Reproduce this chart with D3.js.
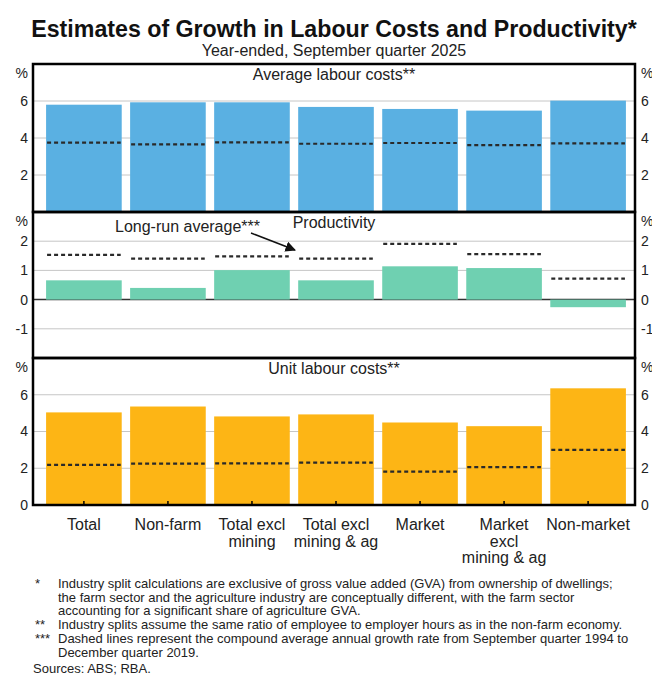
<!DOCTYPE html>
<html>
<head>
<meta charset="utf-8">
<script src="https://cdn.jsdelivr.net/npm/d3@7"></script>
<style>
  body { margin: 0; background: #fff; }
  svg { font-family: "Liberation Sans", Arial, sans-serif; }
</style>
</head>
<body>
<svg id="chart" width="652" height="675"></svg>
<script>
// categories, one entry per line of the label
const categories = [
  ["Total"],
  ["Non-farm"],
  ["Total excl", "mining"],
  ["Total excl", "mining & ag"],
  ["Market"],
  ["Market", "excl", "mining & ag"],
  ["Non-market"]
];

// year-ended growth, September quarter 2025 (%)
const avgLabourCosts = [5.8, 5.93, 5.93, 5.68, 5.57, 5.48, 6.02];
const productivity = [0.66, 0.4, 1.01, 0.66, 1.14, 1.08, -0.26];
const unitLabourCosts = [5.04, 5.36, 4.82, 4.93, 4.49, 4.29, 6.35];

// long-run averages (dashed lines)
const avgLabourCostsLongRun = [3.75, 3.66, 3.76, 3.69, 3.73, 3.62, 3.71];
const productivityLongRun = [1.53, 1.4, 1.48, 1.4, 1.91, 1.56, 0.72];
const unitLabourCostsLongRun = [2.18, 2.25, 2.27, 2.31, 1.82, 2.06, 3.0];

// tick labels
const avgTicks = [2, 4, 6];
const prodTicks = [-1, 0, 1, 2];
const ulcTicks = [0, 2, 4, 6];

const footnotes = [
  { mark: "*", lines: [
    "Industry split calculations are exclusive of gross value added (GVA) from ownership of dwellings;",
    "the farm sector and the agriculture industry are conceptually different, with the farm sector",
    "accounting for a significant share of agriculture GVA."] },
  { mark: "**", lines: [
    "Industry splits assume the same ratio of employee to employer hours as in the non-farm economy."] },
  { mark: "***", lines: [
    "Dashed lines represent the compound average annual growth rate from September quarter 1994 to",
    "December quarter 2019."] }
];

const left = 33, right = 635;
const textColor = "#222";
const svg = d3.select("#chart");

const x = d3.scaleBand()
  .domain(d3.range(categories.length))
  .range([36, 636])
  .paddingInner(0.1)
  .paddingOuter(0.12);

const panels = [
  { title: "Average labour costs**", values: avgLabourCosts, longRun: avgLabourCostsLongRun,
    domain: [0, 8], ticks: avgTicks, top: 64, bottom: 212, color: "#5ab0e2" },
  { title: "Productivity", values: productivity, longRun: productivityLongRun,
    domain: [-2, 3], ticks: prodTicks, top: 212, bottom: 358, color: "#6fd0b1" },
  { title: "Unit labour costs**", values: unitLabourCosts, longRun: unitLabourCostsLongRun,
    domain: [0, 8], ticks: ulcTicks, top: 358, bottom: 505, color: "#fdb515" }
];

// title
svg.append("text")
  .attr("x", 334).attr("y", 37)
  .attr("text-anchor", "middle")
  .attr("font-size", 23.2).attr("font-weight", "bold")
  .attr("fill", "#111")
  .text("Estimates of Growth in Labour Costs and Productivity*");
svg.append("text")
  .attr("x", 334).attr("y", 56)
  .attr("text-anchor", "middle")
  .attr("font-size", 16)
  .attr("fill", textColor)
  .text("Year-ended, September quarter 2025");

panels.forEach((p) => {
  const y = d3.scaleLinear().domain(p.domain).range([p.bottom, p.top]);
  const g = svg.append("g");

  // gridlines
  g.selectAll("line.grid")
    .data(p.ticks.filter((t) => t !== 0))
    .join("line")
    .attr("class", "grid")
    .attr("x1", left).attr("x2", right)
    .attr("y1", (d) => y(d)).attr("y2", (d) => y(d))
    .attr("stroke", "#c6c6c6").attr("stroke-width", 1);

  // zero line where the panel goes negative
  if (p.domain[0] < 0) {
    g.append("line")
      .attr("x1", left).attr("x2", right)
      .attr("y1", y(0)).attr("y2", y(0))
      .attr("stroke", "#333").attr("stroke-width", 1.5);
  }

  // bars
  g.selectAll("rect.bar")
    .data(p.values)
    .join("rect")
    .attr("class", "bar")
    .attr("x", (d, i) => x(i))
    .attr("width", x.bandwidth())
    .attr("y", (d) => y(Math.max(0, d)))
    .attr("height", (d) => Math.abs(y(d) - y(0)))
    .attr("fill", p.color);

  // long-run averages
  g.selectAll("line.lr")
    .data(p.longRun)
    .join("line")
    .attr("class", "lr")
    .attr("x1", (d, i) => x(i) + 1)
    .attr("x2", (d, i) => x(i) + x.bandwidth() - 1)
    .attr("y1", (d) => y(d)).attr("y2", (d) => y(d))
    .attr("stroke", "#2a2a2a")
    .attr("stroke-width", 2.2)
    .attr("stroke-dasharray", "4,3");

  // axes both sides
  const axL = d3.axisLeft(y).tickValues(p.ticks).tickSize(0).tickPadding(5).tickFormat((d) => String(d));
  const axR = d3.axisRight(y).tickValues(p.ticks).tickSize(0).tickPadding(6).tickFormat((d) => String(d));
  [[axL, left], [axR, right]].forEach(([ax, xpos]) => {
    const a = g.append("g").attr("transform", `translate(${xpos},0)`).call(ax);
    a.select(".domain").remove();
    a.selectAll("text").attr("font-size", 14).attr("fill", textColor)
      .attr("font-family", "Liberation Sans, Arial, sans-serif");
  });

  // % units
  g.append("text").attr("x", left - 5).attr("y", p.top + 14)
    .attr("text-anchor", "end").attr("font-size", 14).attr("fill", textColor).text("%");
  g.append("text").attr("x", right + 6).attr("y", p.top + 14)
    .attr("font-size", 14).attr("fill", textColor).text("%");

  // panel title
  g.append("text")
    .attr("x", (left + right) / 2).attr("y", p.top + 16)
    .attr("text-anchor", "middle").attr("font-size", 16).attr("fill", textColor)
    .text(p.title);

  // frame
  g.append("rect")
    .attr("x", left).attr("y", p.top)
    .attr("width", right - left).attr("height", p.bottom - p.top)
    .attr("fill", "none").attr("stroke", "#000").attr("stroke-width", 2.5);
});

// x ticks on bottom panel
const last = panels[panels.length - 1];
const xAxis = svg.append("g")
  .attr("transform", `translate(0,${last.bottom})`)
  .call(d3.axisBottom(x).tickSizeInner(-4).tickSizeOuter(0).tickFormat(() => ""));
xAxis.select(".domain").remove();
xAxis.selectAll("line").attr("stroke", "#000").attr("stroke-width", 1.5);

// category labels
svg.append("g")
  .selectAll("text")
  .data(categories)
  .join("text")
  .attr("text-anchor", "middle")
  .attr("font-size", 16)
  .attr("fill", textColor)
  .each(function (lines, i) {
    d3.select(this).selectAll("tspan")
      .data(lines)
      .join("tspan")
      .attr("x", x(i) + x.bandwidth() / 2)
      .attr("y", (d, j) => 530 + j * 16.5)
      .text((d) => d);
  });

// long-run annotation with arrow
svg.append("defs").append("marker")
  .attr("id", "arrow")
  .attr("viewBox", "0 0 10 10")
  .attr("refX", 9).attr("refY", 5)
  .attr("markerWidth", 7).attr("markerHeight", 7)
  .attr("orient", "auto")
  .append("path").attr("d", "M0,0 L10,5 L0,10 z").attr("fill", "#111");

svg.append("text")
  .attr("x", 115).attr("y", 232)
  .attr("font-size", 16).attr("fill", textColor)
  .text("Long-run average***");
svg.append("line")
  .attr("x1", 251).attr("y1", 233)
  .attr("x2", 295).attr("y2", 250)
  .attr("stroke", "#111").attr("stroke-width", 1.5)
  .attr("marker-end", "url(#arrow)");

// footnotes
let fy = 588;
const fn = svg.append("g").attr("font-size", 13).attr("fill", textColor);
footnotes.forEach((f) => {
  fn.append("text").attr("x", 35).attr("y", fy).text(f.mark);
  f.lines.forEach((line) => {
    fn.append("text").attr("x", 58).attr("y", fy).text(line);
    fy += 13.7;
  });
});
fn.append("text").attr("x", 33).attr("y", 673).text("Sources: ABS; RBA.");
</script>
</body>
</html>
